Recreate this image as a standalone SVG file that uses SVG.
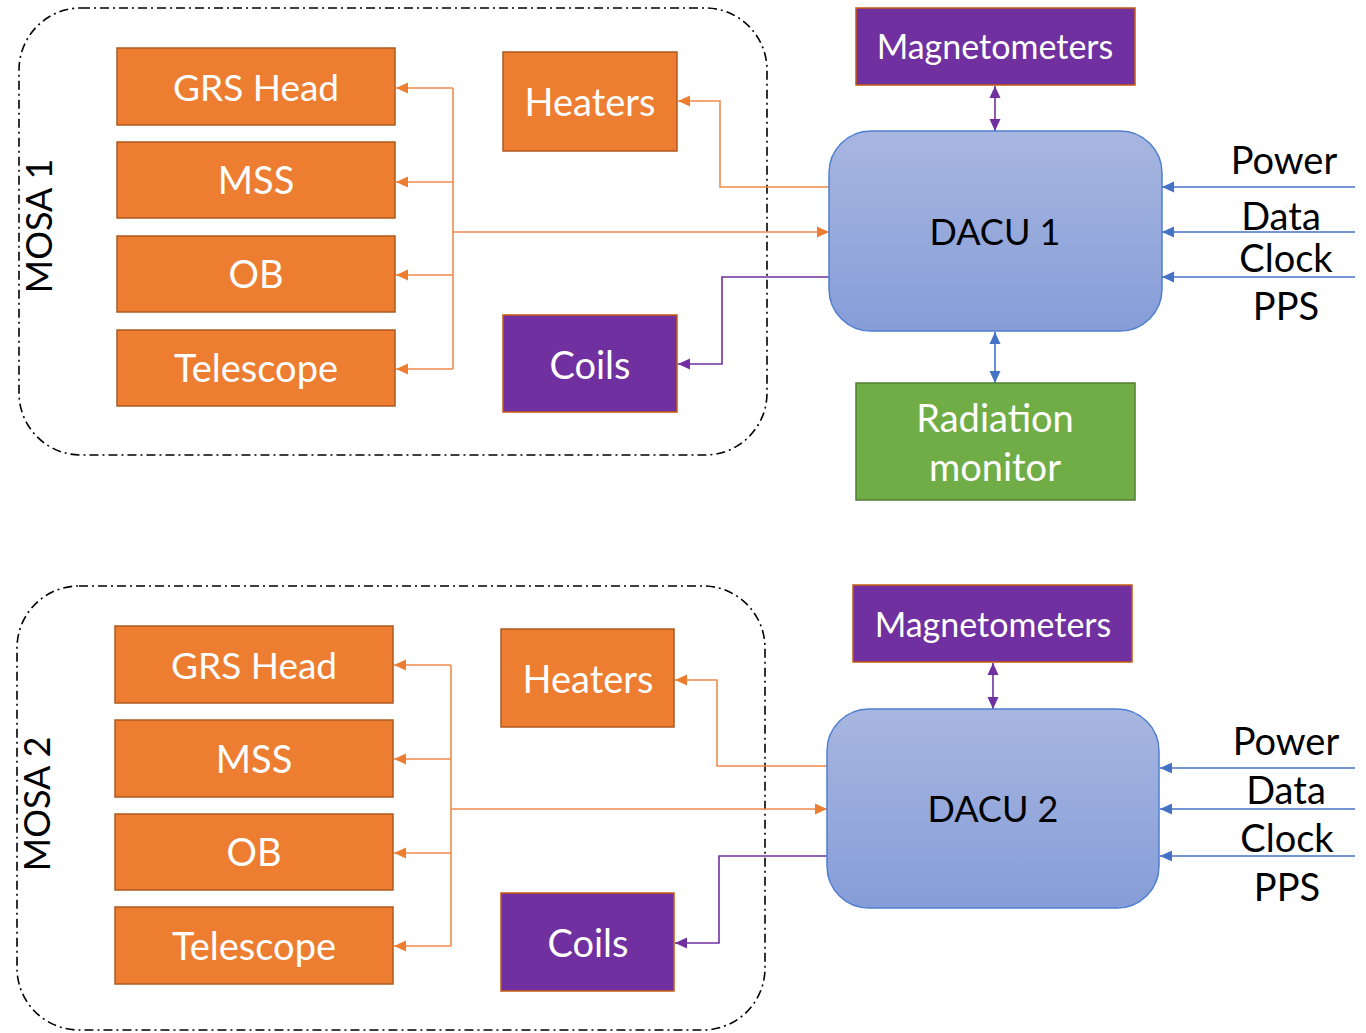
<svg xmlns="http://www.w3.org/2000/svg" width="1366" height="1033" viewBox="0 0 1366 1033">
<style>
text{font-family:Lato,"Open Sans","Liberation Sans",sans-serif;font-size:38px;text-anchor:middle}
.w{fill:#fff}
.k{fill:#000}
.m{font-size:36px}
.or{fill:#ED7D31;stroke:#AE5A21;stroke-width:1.5}
.pu{fill:#7030A0;stroke:#C55A11;stroke-width:1.5}
.gr{fill:#70AD47;stroke:#507E32;stroke-width:1.5}
.da{fill:url(#dg);stroke:#4F7FD0;stroke-width:1.5}
.mosa{fill:none;stroke:#000;stroke-width:1.6;stroke-dasharray:9 4 2 4}
.co{fill:none;stroke:#F08A4B;stroke-width:1.6}
.cp{fill:none;stroke:#7030A0;stroke-width:1.6}
.cb{fill:none;stroke:#4472C4;stroke-width:1.6}
</style>
<defs>
<linearGradient id="dg" x1="0" y1="0" x2="0" y2="1">
<stop offset="0" stop-color="#A8B6E0"/>
<stop offset="1" stop-color="#869DD8"/>
</linearGradient>
<marker id="ao" markerWidth="13" markerHeight="13" refX="12" refY="6.5" orient="auto-start-reverse" markerUnits="userSpaceOnUse"><path d="M0,1 L12,6.5 L0,12 z" fill="#ED7D31"/></marker>
<marker id="ap" markerWidth="13" markerHeight="13" refX="12" refY="6.5" orient="auto-start-reverse" markerUnits="userSpaceOnUse"><path d="M0,1 L12,6.5 L0,12 z" fill="#7030A0"/></marker>
<marker id="ab" markerWidth="13" markerHeight="13" refX="12" refY="6.5" orient="auto-start-reverse" markerUnits="userSpaceOnUse"><path d="M0,1 L12,6.5 L0,12 z" fill="#4472C4"/></marker>
</defs>

<g id="mosa1">
<rect class="mosa" x="19" y="8" width="748" height="447" rx="62" ry="62"/>
<text class="k m" transform="translate(52,226) rotate(-90)">MOSA 1</text>
</g>
<g id="mosa2">
<rect class="mosa" x="17" y="586" width="748" height="444" rx="62" ry="62"/>
<text class="k m" transform="translate(50,804) rotate(-90)">MOSA 2</text>
</g>

<g id="connectors">
<!-- top -->
<path class="co" d="M453,88 V369"/>
<path class="co" d="M453,88 H396" marker-end="url(#ao)"/>
<path class="co" d="M453,182 H396" marker-end="url(#ao)"/>
<path class="co" d="M453,275 H396" marker-end="url(#ao)"/>
<path class="co" d="M453,369 H396" marker-end="url(#ao)"/>
<path class="co" d="M453,232 H829" marker-end="url(#ao)"/>
<path class="co" d="M829,187 H720 V101 H678" marker-end="url(#ao)"/>
<path class="cp" d="M829,277 H722 V364 H678" marker-end="url(#ap)"/>
<path class="cp" d="M995,86 V131" marker-start="url(#ap)" marker-end="url(#ap)"/>
<path class="cb" d="M995,332 V383" marker-start="url(#ab)" marker-end="url(#ab)"/>
<path class="cb" d="M1355,187 H1162" marker-end="url(#ab)"/>
<path class="cb" d="M1355,232 H1162" marker-end="url(#ab)"/>
<path class="cb" d="M1355,277 H1162" marker-end="url(#ab)"/>
<!-- bottom -->
<path class="co" d="M451,665 V946"/>
<path class="co" d="M451,665 H394" marker-end="url(#ao)"/>
<path class="co" d="M451,759 H394" marker-end="url(#ao)"/>
<path class="co" d="M451,853 H394" marker-end="url(#ao)"/>
<path class="co" d="M451,946 H394" marker-end="url(#ao)"/>
<path class="co" d="M451,809 H827" marker-end="url(#ao)"/>
<path class="co" d="M827,766 H717 V680 H675" marker-end="url(#ao)"/>
<path class="cp" d="M827,856 H719 V943 H675" marker-end="url(#ap)"/>
<path class="cp" d="M993,663 V709" marker-start="url(#ap)" marker-end="url(#ap)"/>
<path class="cb" d="M1355,768 H1160" marker-end="url(#ab)"/>
<path class="cb" d="M1355,809 H1160" marker-end="url(#ab)"/>
<path class="cb" d="M1355,856 H1160" marker-end="url(#ab)"/>
</g>

<g id="grs1"><rect class="or" x="117" y="48" width="278" height="77"/><text class="w" x="256" y="101" style="font-size:37px">GRS Head</text></g>
<g id="mss1"><rect class="or" x="117" y="142" width="278" height="76"/><text class="w" x="256" y="194">MSS</text></g>
<g id="ob1"><rect class="or" x="117" y="236" width="278" height="76"/><text class="w" x="256" y="288">OB</text></g>
<g id="tel1"><rect class="or" x="117" y="330" width="278" height="76"/><text class="w" x="256" y="382">Telescope</text></g>
<g id="heat1"><rect class="or" x="503" y="52" width="174" height="99"/><text class="w" x="590" y="116">Heaters</text></g>
<g id="coils1"><rect class="pu" x="503" y="315" width="174" height="97"/><text class="w" x="590" y="379">Coils</text></g>
<g id="mag1"><rect class="pu" x="856" y="8" width="279" height="77"/><text class="w" x="995" y="59" style="font-size:34px">Magnetometers</text></g>
<g id="dacu1"><rect class="da" x="829" y="131" width="333" height="200" rx="42" ry="42"/><text class="k m" x="995" y="245">DACU 1</text></g>
<g id="rad1"><rect class="gr" x="856" y="383" width="279" height="117"/><text class="w" x="995" y="432">Radiation</text><text class="w" x="995" y="481">monitor</text></g>
<g id="labels1">
<text class="k" x="1284" y="174">Power</text>
<text class="k" x="1281" y="230">Data</text>
<text class="k" x="1286" y="272">Clock</text>
<text class="k" x="1286" y="320">PPS</text>
</g>

<g id="grs2"><rect class="or" x="115" y="626" width="278" height="77"/><text class="w" x="254" y="679" style="font-size:37px">GRS Head</text></g>
<g id="mss2"><rect class="or" x="115" y="720" width="278" height="77"/><text class="w" x="254" y="773">MSS</text></g>
<g id="ob2"><rect class="or" x="115" y="814" width="278" height="76"/><text class="w" x="254" y="866">OB</text></g>
<g id="tel2"><rect class="or" x="115" y="907" width="278" height="77"/><text class="w" x="254" y="960">Telescope</text></g>
<g id="heat2"><rect class="or" x="501" y="629" width="173" height="98"/><text class="w" x="588" y="693">Heaters</text></g>
<g id="coils2"><rect class="pu" x="501" y="893" width="173" height="98"/><text class="w" x="588" y="957">Coils</text></g>
<g id="mag2"><rect class="pu" x="853" y="585" width="279" height="77"/><text class="w" x="993" y="637" style="font-size:34px">Magnetometers</text></g>
<g id="dacu2"><rect class="da" x="827" y="709" width="332" height="199" rx="42" ry="42"/><text class="k m" x="993" y="822">DACU 2</text></g>
<g id="labels2">
<text class="k" x="1286" y="755">Power</text>
<text class="k" x="1286" y="804">Data</text>
<text class="k" x="1287" y="852">Clock</text>
<text class="k" x="1287" y="901">PPS</text>
</g>
</svg>
